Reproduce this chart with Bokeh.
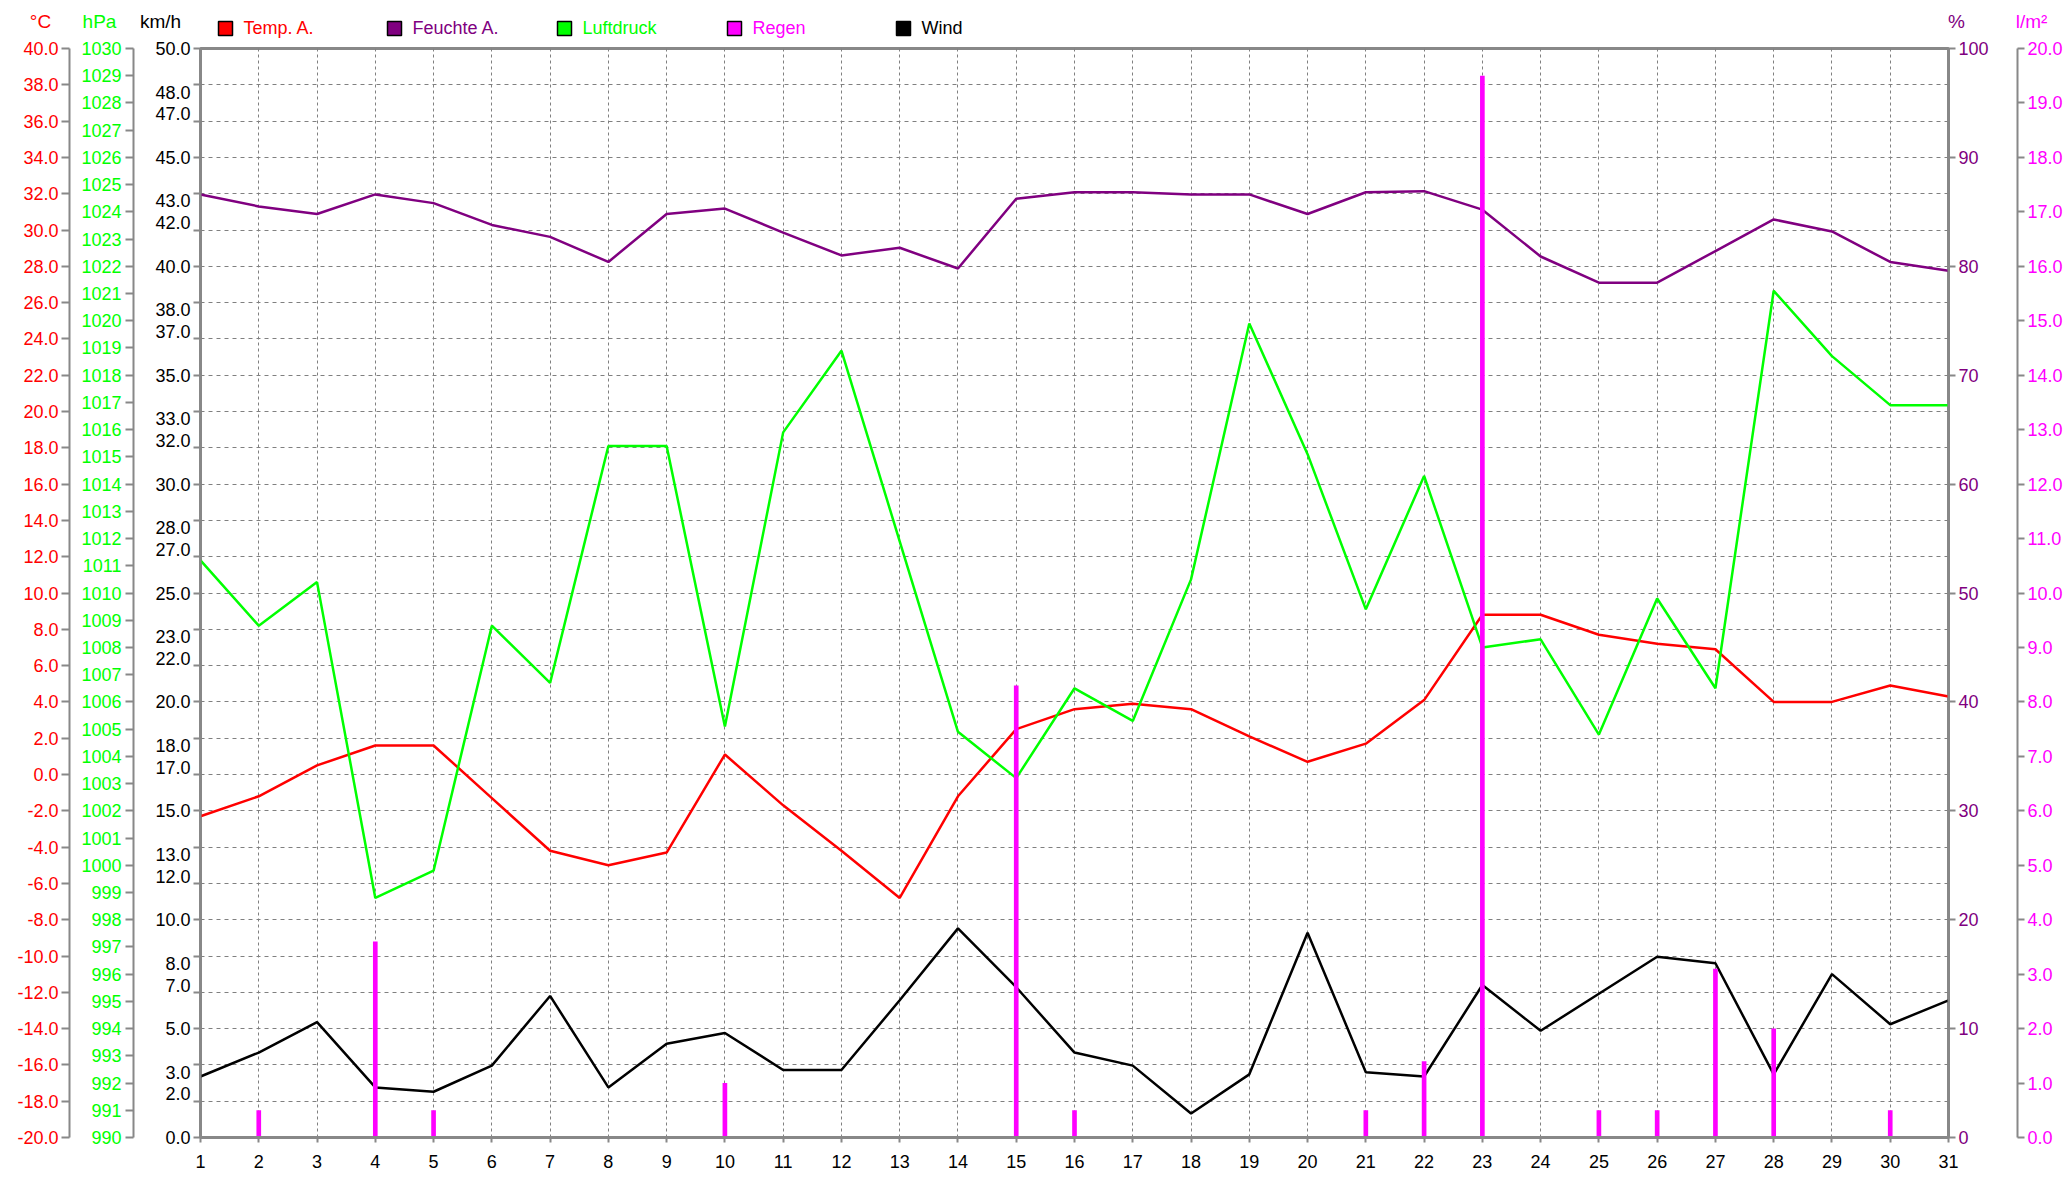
from bokeh.plotting import figure
from bokeh.models import Range1d, LinearAxis, FixedTicker
from bokeh.core.properties import value
from bokeh.embed import file_html
from bokeh.resources import INLINE

# ---------------- data (December 2012) ----------------
days = list(range(1, 32))
temp_c = [-2.3, -1.2, 0.5, 1.6, 1.6, -1.3, -4.2, -5.0, -4.3, 1.1, -1.7, -4.2, -6.8, -1.2, 2.5, 3.6,
          3.9, 3.6, 2.1, 0.7, 1.7, 4.1, 8.8, 8.8, 7.7, 7.2, 6.9, 4.0, 4.0, 4.9, 4.3]
humidity_pct = [86.6, 85.5, 84.8, 86.6, 85.8, 83.8, 82.7, 80.4, 84.8, 85.3, 83.1, 81.0, 81.7, 79.8, 86.2, 86.8,
                86.8, 86.6, 86.6, 84.8, 86.8, 86.9, 85.2, 80.9, 78.5, 78.5, 81.4, 84.3, 83.2, 80.4, 79.6]
pressure_hpa = [1011.2, 1008.8, 1010.4, 998.8, 999.8, 1008.8, 1006.7, 1015.4, 1015.4, 1005.1, 1015.9,
                1018.9, 1011.9, 1004.9, 1003.2, 1006.5, 1005.3, 1010.5, 1019.9, 1015.1, 1009.4, 1014.3,
                1008.0, 1008.3, 1004.8, 1009.8, 1006.5, 1021.1, 1018.7, 1016.9, 1016.9]
wind_kmh = [2.8, 3.9, 5.3, 2.3, 2.1, 3.3, 6.5, 2.3, 4.3, 4.8, 3.1, 3.1, 6.3, 9.6, 6.9, 3.9,
            3.3, 1.1, 2.9, 9.4, 3.0, 2.8, 7.0, 4.9, 6.6, 8.3, 8.0, 2.9, 7.5, 5.2, 6.3]
rain_lm2 = [0, 0.5, 0, 3.6, 0.5, 0, 0, 0, 0, 1.0, 0, 0, 0, 0, 8.3, 0.5,
            0, 0, 0, 0, 0.5, 1.4, 19.5, 0, 0.5, 0.5, 3.1, 2.0, 0, 0.5, 0]

# ---------------- ticks / labels ----------------
day_labels = [str(d) for d in days]
temp_ticks = list(range(-20, 41, 2))
temp_labels = [f"{t:.1f}" for t in temp_ticks]
hpa_ticks = list(range(990, 1031))
hpa_labels = [str(t) for t in hpa_ticks]
wind_label_values = [0, 2, 3, 5, 7, 8, 10, 12, 13, 15, 17, 18, 20, 22, 23, 25, 27, 28, 30,
                     32, 33, 35, 37, 38, 40, 42, 43, 45, 47, 48, 50]
wind_labels = [f"{v:.1f}" for v in wind_label_values]
wind_divisions = [i * 50 / 30 for i in range(31)]
hum_ticks = list(range(0, 101, 10))
hum_labels = [str(t) for t in hum_ticks]
rain_ticks = list(range(0, 21))
rain_labels = [f"{t:.1f}" for t in rain_ticks]

legend_names = ["Temp. A.", "Feuchte A.", "Luftdruck", "Regen", "Wind"]
unit_names = ["°C", "hPa", "km/h", "%", "l/m²"]
RED, PURPLE, GREEN, MAGENTA, BLACK = "#FF0000", "#800080", "#00FF00", "#FF00FF", "#000000"
legend_colors = [RED, PURPLE, GREEN, MAGENTA, BLACK]
unit_colors = [RED, GREEN, BLACK, PURPLE, MAGENTA]
GRAY = "#888888"
FONT = "Liberation Sans"

W, H = 2069, 1179
HEAD = 38

# ---------------- header (units + legend), its own root ----------------
head = figure(width=W, height=HEAD, x_range=Range1d(0, W), y_range=Range1d(HEAD, 0),
              output_backend="svg", toolbar_location=None, title=None,
              x_axis_location=None, y_axis_location=None,
              min_border_left=0, min_border_right=0, min_border_top=0, min_border_bottom=0)
head.grid.visible = False
head.outline_line_color = None
head.background_fill_color = "white"
head.border_fill_color = "white"

unit_x = [40, 99, 160, 1956, 2031]
head.text(x=unit_x, y=[21] * 5, text=unit_names, text_color=unit_colors,
          text_font=value(FONT), text_font_size=value("19px"),
          text_align="center", text_baseline="middle")

legend_x = [218, 387, 557, 727, 896]
head.rect(x=[lx + 7 for lx in legend_x], y=[28] * 5, width=14, height=14,
          fill_color=legend_colors, line_color="black", line_width=1.5)
head.text(x=[lx + 25 for lx in legend_x], y=[27.5] * 5, text=legend_names, text_color=legend_colors,
          text_font=value(FONT), text_font_size=value("18px"),
          text_align="left", text_baseline="middle")

# ---------------- main chart ----------------
p = figure(width=W, height=H - HEAD, x_range=Range1d(1, 31), y_range=Range1d(0, 50),
           output_backend="svg", toolbar_location=None, title=None,
           min_border_left=200, min_border_right=121, min_border_top=48 - HEAD, min_border_bottom=42)
p.background_fill_color = "white"
p.border_fill_color = "white"
p.outline_line_color = GRAY
p.outline_line_width = 3

p.extra_y_ranges = {
    "temp": Range1d(-20, 40),
    "hpa": Range1d(990, 1030),
    "hum": Range1d(0, 100),
    "rain": Range1d(0, 20),
}


def style_axis(ax, color, tick_out, standoff, extra=0):
    ax.axis_line_color = GRAY
    ax.axis_line_width = 2
    ax.major_tick_line_color = GRAY
    ax.major_tick_line_width = 2
    ax.major_tick_out = tick_out
    ax.major_tick_in = 0
    ax.minor_tick_line_color = None
    ax.major_label_text_color = color
    ax.major_label_text_font = FONT
    ax.major_label_text_font_size = "18px"
    ax.major_label_standoff = standoff
    if extra:
        ax.axis_label = " "
        ax.axis_label_text_font_size = "1px"
        ax.axis_label_standoff = extra


# x axis
xa = p.xaxis[0]
xa.ticker = FixedTicker(ticks=days)
xa.major_label_overrides = dict(zip(days, day_labels))
style_axis(xa, BLACK, 5, 12)
xa.axis_line_width = 3

# km/h axis (nearest to frame on the left)
wa = p.yaxis[0]
wa.ticker = FixedTicker(ticks=wind_label_values, minor_ticks=wind_divisions)
wa.major_label_overrides = dict(zip(wind_label_values, wind_labels))
style_axis(wa, BLACK, 7, 3, extra=15)
wa.major_tick_line_color = None
wa.minor_tick_line_color = GRAY
wa.minor_tick_line_width = 2
wa.minor_tick_out = 7
wa.minor_tick_in = 0

# hPa axis
ha = LinearAxis(y_range_name="hpa", ticker=FixedTicker(ticks=hpa_ticks),
                major_label_overrides=dict(zip(hpa_ticks, hpa_labels)))
style_axis(ha, GREEN, 8, 4, extra=5)
p.add_layout(ha, "left")

# °C axis
ta = LinearAxis(y_range_name="temp", ticker=FixedTicker(ticks=temp_ticks),
                major_label_overrides=dict(zip(temp_ticks, temp_labels)))
style_axis(ta, RED, 8, 3)
p.add_layout(ta, "left")

# % axis
pa = LinearAxis(y_range_name="hum", ticker=FixedTicker(ticks=hum_ticks),
                major_label_overrides=dict(zip(hum_ticks, hum_labels)))
style_axis(pa, PURPLE, 7, 3, extra=22)
p.add_layout(pa, "right")

# l/m² axis
ra = LinearAxis(y_range_name="rain", ticker=FixedTicker(ticks=rain_ticks),
                major_label_overrides=dict(zip(rain_ticks, rain_labels)))
style_axis(ra, MAGENTA, 7, 3)
p.add_layout(ra, "right")

# grids
p.xgrid.ticker = FixedTicker(ticks=days)
p.xgrid.grid_line_color = "#808080"
p.xgrid.grid_line_dash = "3 3"
p.xgrid.grid_line_width = 1
p.ygrid.ticker = FixedTicker(ticks=wind_divisions)
p.ygrid.grid_line_color = "#808080"
p.ygrid.grid_line_dash = "4 4"
p.ygrid.grid_line_width = 1

# series
p.line(days, temp_c, y_range_name="temp", line_color=RED, line_width=2.5)
p.line(days, humidity_pct, y_range_name="hum", line_color=PURPLE, line_width=2.5)
p.line(days, pressure_hpa, y_range_name="hpa", line_color=GREEN, line_width=2.5)
p.line(days, wind_kmh, line_color=BLACK, line_width=2.5)
p.vbar(x=days, top=rain_lm2, bottom=0, width=0.08, y_range_name="rain",
       fill_color=MAGENTA, line_color=None)

open("out.html", "w").write(file_html([head, p], INLINE))
